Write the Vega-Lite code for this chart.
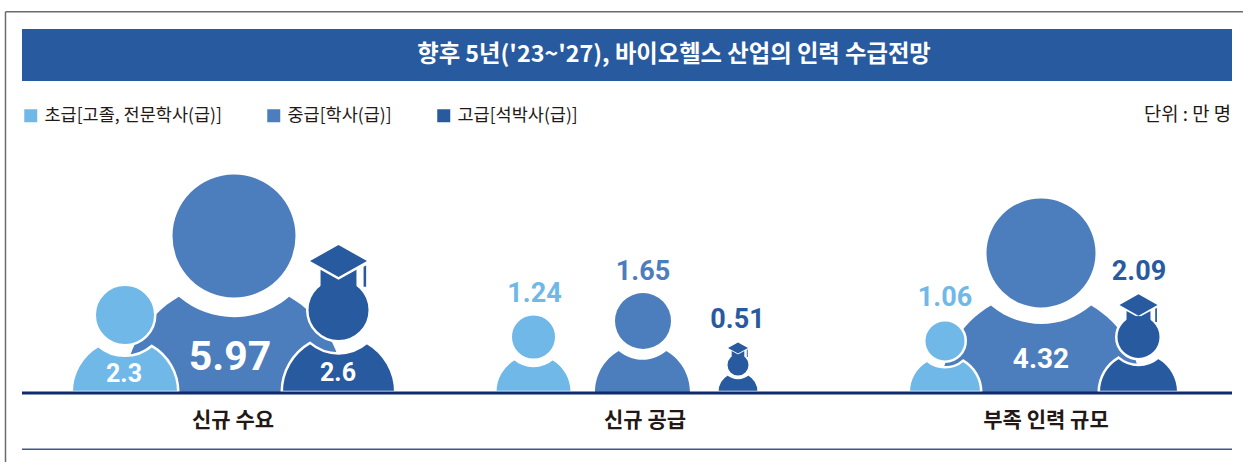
{
"$schema":"https://vega.github.io/schema/vega-lite/v6.json",
"width":1243,"height":462,"padding":0,"autosize":{"type":"none"},
"background":"white",
"config":{"view":{"stroke":null},"font":"Noto Sans CJK KR","text":{"font":"Noto Sans CJK KR"}},
"data":{"values":[
{"group":"신규 수요","level":"초급[고졸, 전문학사(급)]","value":2.3},
{"group":"신규 수요","level":"중급[학사(급)]","value":5.97},
{"group":"신규 수요","level":"고급[석박사(급)]","value":2.6},
{"group":"신규 공급","level":"초급[고졸, 전문학사(급)]","value":1.24},
{"group":"신규 공급","level":"중급[학사(급)]","value":1.65},
{"group":"신규 공급","level":"고급[석박사(급)]","value":0.51},
{"group":"부족 인력 규모","level":"초급[고졸, 전문학사(급)]","value":1.06},
{"group":"부족 인력 규모","level":"중급[학사(급)]","value":4.32},
{"group":"부족 인력 규모","level":"고급[석박사(급)]","value":2.09}
]},
"resolve":{"scale":{"x":"independent","y":"independent","xOffset":"independent","size":"independent"}},
"layer":[
{"data":{"values":[{"t":"frame"}]},"mark":{"type":"rule","stroke":"#6b6b6b","strokeWidth":1.5},
 "encoding":{"x":{"datum":5.5,"type":"quantitative","scale":{"domain":[0,1243],"range":[0,1243]},"axis":null},"x2":{"datum":1243},"y":{"datum":11.7,"type":"quantitative","scale":{"domain":[0,462],"range":[0,462]},"axis":null}}},
{"data":{"values":[{"t":"frame"}]},"mark":{"type":"rule","stroke":"#6b6b6b","strokeWidth":1.5},
 "encoding":{"x":{"datum":5.5,"type":"quantitative","scale":{"domain":[0,1243],"range":[0,1243]},"axis":null},"y":{"datum":11.7,"type":"quantitative","scale":{"domain":[0,462],"range":[0,462]},"axis":null},"y2":{"datum":462}}},
{"data":{"values":[{"t":"banner"}]},"mark":{"type":"rect","fill":"#285a9f"},
 "encoding":{"x":{"datum":22,"type":"quantitative","scale":{"domain":[0,1243],"range":[0,1243]},"axis":null},"x2":{"datum":1232},"y":{"datum":29,"type":"quantitative","scale":{"domain":[0,462],"range":[0,462]},"axis":null},"y2":{"datum":81}}},
{"data":{"values":[{"t":"향후 5년('23~'27), 바이오헬스 산업의 인력 수급전망"}]},"mark":{"type":"text","color":"white","fontSize":23.3,"fontWeight":"bold","align":"center","baseline":"middle"},
 "encoding":{"text":{"field":"t"},"x":{"datum":674,"type":"quantitative","scale":{"domain":[0,1243],"range":[0,1243]},"axis":null},"y":{"datum":55,"type":"quantitative","scale":{"domain":[0,462],"range":[0,462]},"axis":null}}},
{"data":{"values":[{"t":"단위 : 만 명"}]},"mark":{"type":"text","color":"#231815","fontSize":18.8,"align":"right","baseline":"middle"},
 "encoding":{"text":{"field":"t"},"x":{"datum":1231,"type":"quantitative","scale":{"domain":[0,1243],"range":[0,1243]},"axis":null},"y":{"datum":114.5,"type":"quantitative","scale":{"domain":[0,462],"range":[0,462]},"axis":null}}},
{"transform":[{"filter":"indexof(datum.level,'중급')===0"}],
 "mark":{"type":"point","filled":true,"opacity":1,"shape":"M-1,0 A1,1 0 0 1 -0.501,-0.865 A0.77,0.77 0 0 0 0.501,-0.865 A1,1 0 0 1 1,0 Z"},
 "encoding":{
  "x":{"field":"group","type":"nominal","sort":null,"axis":null,"scale":{"type":"band","domain":["신규 수요","신규 공급","부족 인력 규모"],"range":[233,1452.5],"paddingInner":0,"paddingOuter":0}},
  "xOffset":{"field":"value","type":"quantitative","scale":{"domain":[1.65,4.32,5.97],"range":[3,-5,1]}},
  "y":{"datum":392,"type":"quantitative","scale":{"domain":[0,462],"range":[0,462]},"axis":null},
  "size":{"field":"value","type":"quantitative","legend":null,"scale":{"domain":[1.65,4.32,5.97],"range":[9025,40000,48400]}},
  "color":{"field":"level","type":"nominal","sort":null,"scale":{"domain":["초급[고졸, 전문학사(급)]","중급[학사(급)]","고급[석박사(급)]"],"range":["#6fb8e8","#4c7dbd","#285a9f"]},
   "legend":{"orient":"none","legendX":22,"legendY":107,"direction":"horizontal","columns":3,"title":null,"symbolType":"square","symbolSize":169,"labelFontSize":17.5,"labelColor":"#231815","labelFont":"Noto Sans CJK KR","labelLimit":400,"labelOffset":5,"columnPadding":43,"gridAlign":"none"}}
 }},
{"transform":[{"filter":"indexof(datum.level,'중급')===0"}],
 "mark":{"type":"point","filled":true,"opacity":1,"shape":"circle"},
 "encoding":{
  "x":{"field":"group","type":"nominal","sort":null,"axis":null,"scale":{"type":"band","domain":["신규 수요","신규 공급","부족 인력 규모"],"range":[233,1452.5],"paddingInner":0,"paddingOuter":0}},
  "xOffset":{"field":"value","type":"quantitative","scale":{"domain":[1.65,4.32,5.97],"range":[3.5,-5,1]}},
  "y":{"field":"value","type":"quantitative","axis":null,"scale":{"domain":[1.65,4.32,5.97],"range":[321,253,236]}},
  "size":{"field":"value","type":"quantitative","legend":null,"scale":{"domain":[1.65,4.32,5.97],"range":[3136,11881,15129]}},
  "color":{"field":"level","type":"nominal","sort":null,"legend":null}
 }},
{"transform":[{"filter":"indexof(datum.level,'중급')!==0"}],
 "mark":{"type":"point","filled":true,"opacity":1,"stroke":"white","strokeWidth":2.5,"shape":"M-1,0 A1,1 0 0 1 -0.501,-0.865 A0.77,0.77 0 0 0 0.501,-0.865 A1,1 0 0 1 1,0 Z"},
 "encoding":{
  "x":{"field":"group","type":"nominal","sort":null,"axis":null,"scale":{"type":"band","domain":["신규 수요","신규 공급","부족 인력 규모"],"range":[233,1452.5],"paddingInner":0,"paddingOuter":0}},
  "xOffset":{"field":"value","type":"quantitative","scale":{"domain":[0.51,1.06,1.24,2.09,2.3,2.6],"range":[98.5,-101,-106,92.5,-108,105.5]}},
  "y":{"datum":392,"type":"quantitative","scale":{"domain":[0,462],"range":[0,462]},"axis":null},
  "size":{"field":"value","type":"quantitative","legend":null,"scale":{"domain":[0.51,1.06,1.24,2.09,2.3,2.6],"range":[1722,5256,5852,6320,11342,12882]}},
  "color":{"field":"level","type":"nominal","sort":null,"legend":null}
 }},
{"transform":[{"filter":"indexof(datum.level,'중급')!==0"}],
 "mark":{"type":"point","filled":true,"opacity":1,"stroke":"white","strokeWidth":2.5,"shape":"circle"},
 "encoding":{
  "x":{"field":"group","type":"nominal","sort":null,"axis":null,"scale":{"type":"band","domain":["신규 수요","신규 공급","부족 인력 규모"],"range":[233,1452.5],"paddingInner":0,"paddingOuter":0}},
  "xOffset":{"field":"value","type":"quantitative","scale":{"domain":[0.51,1.06,1.24,2.09,2.3,2.6],"range":[98.5,-101,-106,92.5,-108,105.5]}},
  "y":{"field":"value","type":"quantitative","axis":null,"scale":{"domain":[0.51,1.06,1.24,2.09,2.3,2.6],"range":[365,341,337,337,315,310]}},
  "size":{"field":"value","type":"quantitative","legend":null,"scale":{"domain":[0.51,1.06,1.24,2.09,2.3,2.6],"range":[552,1722,2070,1980,3660,3906]}},
  "color":{"field":"level","type":"nominal","sort":null,"legend":null}
 }},
{"transform":[{"filter":"indexof(datum.level,'고급')===0"}],
 "mark":{"type":"point","filled":true,"opacity":1,"shape":"M-1,0 L0,-0.56 L1,0 L0,0.56 Z M-0.63,0.31 L0,0.66 L0.63,0.31 L0.63,1 L-0.63,1 Z M0.88,0.2 L0.97,0.16 L0.97,0.9 L0.88,0.9 Z"},
 "encoding":{
  "x":{"field":"group","type":"nominal","sort":null,"axis":null,"scale":{"type":"band","domain":["신규 수요","신규 공급","부족 인력 규모"],"range":[233,1452.5],"paddingInner":0,"paddingOuter":0}},
  "xOffset":{"field":"value","type":"quantitative","scale":{"domain":[0.51,2.09,2.6],"range":[98.5,92.5,105.5]}},
  "y":{"field":"value","type":"quantitative","axis":null,"scale":{"domain":[0.51,2.09,2.6],"range":[348,305,261]}},
  "size":{"field":"value","type":"quantitative","legend":null,"scale":{"domain":[0.51,2.09,2.6],"range":[400,1444,3249]}},
  "color":{"field":"level","type":"nominal","sort":null,"legend":null}
 }},
{"mark":{"type":"text","font":"Roboto","fontWeight":"bold","align":"center","baseline":"middle"},
 "encoding":{
  "text":{"field":"value","type":"quantitative","format":".2~f"},
  "x":{"field":"group","type":"nominal","sort":null,"axis":null,"scale":{"type":"band","domain":["신규 수요","신규 공급","부족 인력 규모"],"range":[233,1452.5],"paddingInner":0,"paddingOuter":0}},
  "xOffset":{"field":"value","type":"quantitative","scale":{"domain":[0.51,1.06,1.24,1.65,2.09,2.3,2.6,4.32,5.97],"range":[98,-101,-105,3.5,93,-109,105,-5,-3]}},
  "y":{"field":"value","type":"quantitative","axis":null,"scale":{"domain":[0.51,1.06,1.24,1.65,2.09,2.3,2.6,4.32,5.97],"range":[320,298,294,272,272,374,373,360,358]}},
  "size":{"field":"value","type":"quantitative","legend":null,"scale":{"domain":[0.51,1.06,1.24,1.65,2.09,2.3,2.6,4.32,5.97],"range":[27,27,27,27,27,25,25,28,41]}},
  "color":{"condition":{"test":"datum.value>=2.3","value":"white"},"field":"level","type":"nominal","sort":null,"legend":null}
 }},
{"data":{"values":[{"t":"base"}]},"mark":{"type":"rule","stroke":"#0f2a6e","strokeWidth":3},
 "encoding":{"x":{"datum":22,"type":"quantitative","scale":{"domain":[0,1243],"range":[0,1243]},"axis":null},"x2":{"datum":1232},"y":{"datum":393,"type":"quantitative","scale":{"domain":[0,462],"range":[0,462]},"axis":null}}},
{"data":{"values":[{"t":"foot"}]},"mark":{"type":"rule","stroke":"#3b5a92","strokeWidth":1.5},
 "encoding":{"x":{"datum":22,"type":"quantitative","scale":{"domain":[0,1243],"range":[0,1243]},"axis":null},"x2":{"datum":1232},"y":{"datum":449.3,"type":"quantitative","scale":{"domain":[0,462],"range":[0,462]},"axis":null}}},
{"transform":[{"filter":"indexof(datum.level,'중급')===0"}],
 "mark":{"type":"text","color":"#231815","fontSize":21,"fontWeight":"bold","align":"center","baseline":"middle"},
 "encoding":{
  "text":{"field":"group"},
  "x":{"field":"group","type":"nominal","sort":null,"axis":null,"scale":{"type":"band","domain":["신규 수요","신규 공급","부족 인력 규모"],"range":[233,1452.5],"paddingInner":0,"paddingOuter":0}},
  "xOffset":{"field":"value","type":"quantitative","scale":{"domain":[1.65,4.32,5.97],"range":[5.5,0,0]}},
  "y":{"datum":421,"type":"quantitative","scale":{"domain":[0,462],"range":[0,462]},"axis":null}
 }}
]
}
